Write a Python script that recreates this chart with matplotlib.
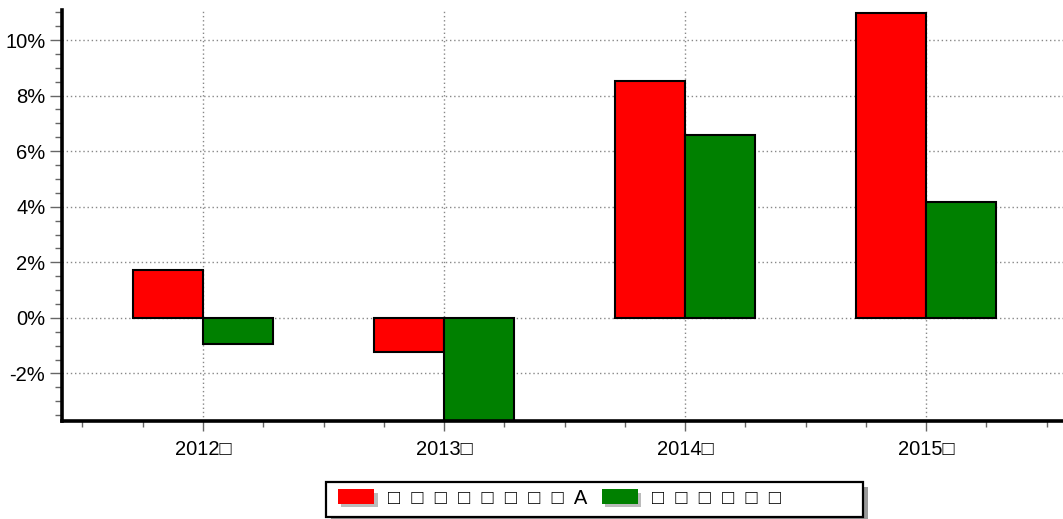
import matplotlib
matplotlib.use("Agg")
import matplotlib.pyplot as plt
import matplotlib.patheffects as pe
from matplotlib.patches import Rectangle
import numpy as np
from matplotlib.ticker import MultipleLocator, FuncFormatter

categories = ["2012\u25a1", "2013\u25a1", "2014\u25a1", "2015\u25a1"]
series_names = ["\u25a1  \u25a1  \u25a1  \u25a1  \u25a1  \u25a1  \u25a1  \u25a1  A",
                "\u25a1  \u25a1  \u25a1  \u25a1  \u25a1  \u25a1"]
series_red = [1.73, -1.22, 8.53, 10.97]
series_green = [-0.94, -4.0, 6.58, 4.17]
colors = ["#ff0000", "#008000"]

plt.rcParams['font.family'] = ['Liberation Sans', 'DejaVu Sans']

W, H = 1063, 519
fig = plt.figure(figsize=(W/100, H/100), dpi=100)
ax = fig.add_axes([62/W, 1-421/H, 1-62/W, (421-10)/H])

x = np.arange(len(categories))
w = 0.29
ax.bar(x - w/2, series_red, w, color=colors[0], edgecolor="black", linewidth=1.5,
       label=series_names[0], zorder=3)
ax.bar(x + w/2, series_green, w, color=colors[1], edgecolor="black", linewidth=1.5,
       label=series_names[1], zorder=3)

ax.set_xlim(-0.585, 3.568)
ax.set_ylim(-3.71, 11.08)

ax.yaxis.set_major_locator(MultipleLocator(2))
ax.yaxis.set_minor_locator(MultipleLocator(0.5))
ax.yaxis.set_major_formatter(FuncFormatter(lambda v, p: f"{v:.0f}%"))
ax.set_xticks(x)
ax.set_xticklabels(categories)
ax.xaxis.set_minor_locator(MultipleLocator(0.25))

ax.tick_params(axis='y', which='major', length=9, width=1, color='#666666',
               labelsize=14.5, pad=3)
ax.tick_params(axis='y', which='minor', length=5, width=1, color='#666666')
ax.tick_params(axis='x', which='major', length=7, width=1, color='#666666',
               labelsize=14.5, pad=7)
ax.tick_params(axis='x', which='minor', length=4, width=1, color='#666666')

ax.grid(True, which='major', linestyle=(0, (1, 2)), color='#888888', linewidth=1, zorder=0)

for s in ['top', 'right']:
    ax.spines[s].set_visible(False)
for s in ['left', 'bottom']:
    ax.spines[s].set_linewidth(2.6)
    ax.spines[s].set_color('black')
    ax.spines[s].set_zorder(5)

# legend frame with shadow (figure pixel coords)
fx0, fx1, fy0, fy1 = 326, 863, 482, 517
fig.patches.append(Rectangle((fx0 + 5, H - fy1 - 5), fx1 - fx0, fy1 - fy0,
                             transform=None, facecolor='#999999', edgecolor='none', zorder=1))
fig.patches.append(Rectangle((fx0, H - fy1), fx1 - fx0, fy1 - fy0,
                             transform=None, facecolor='white', edgecolor='black',
                             linewidth=1.6, zorder=2))

shadow = [pe.withSimplePatchShadow(offset=(2.5, -2.5), shadow_rgbFace='#bbbbbb', alpha=1.0),
          pe.Normal()]
handles = [Rectangle((0, 0), 1, 1, facecolor=c, edgecolor='none', path_effects=shadow)
           for c in colors]
leg = fig.legend(handles, series_names, loc='center left',
                 bbox_to_anchor=(338/W, 1 - 498/H),
                 ncol=2, frameon=False, fontsize=14.5,
                 handlelength=1.8, handleheight=0.7, columnspacing=0.7,
                 handletextpad=0.7, borderpad=0, borderaxespad=0)
leg.set_zorder(3)

fig.savefig("out.png", dpi=100)
